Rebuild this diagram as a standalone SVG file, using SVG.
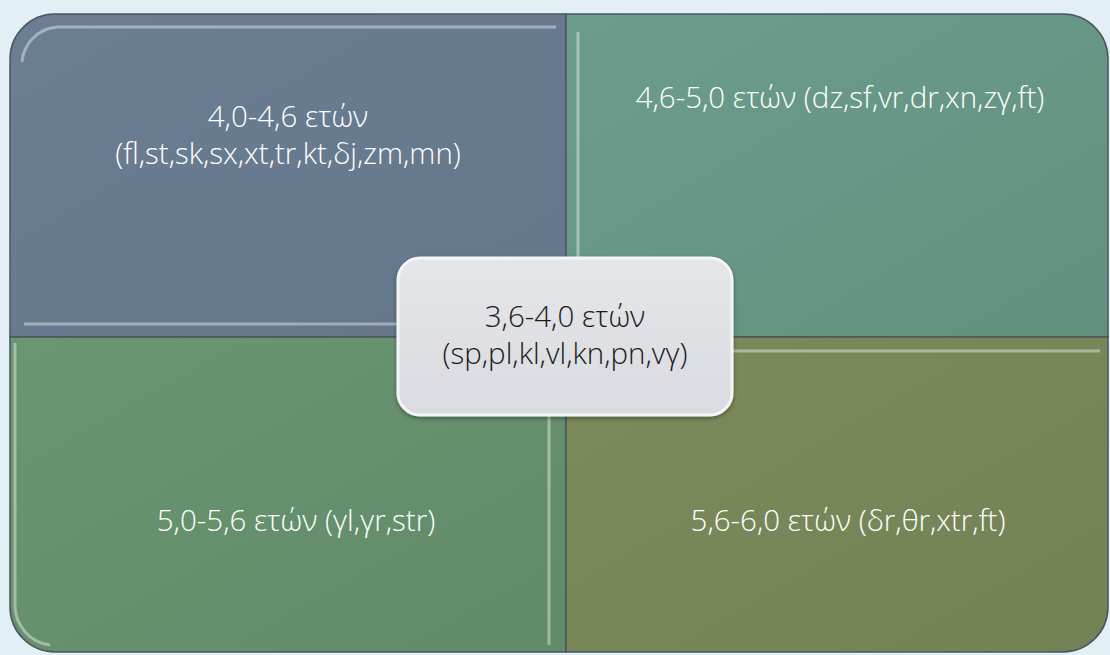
<svg xmlns="http://www.w3.org/2000/svg" width="1110" height="655" viewBox="0 0 1110 655">
<style>
.q{stroke:#4a5560;stroke-width:1.5}
.hl{fill:none;stroke:#ffffff;stroke-opacity:0.4;stroke-width:3}
.t{font-family:"Open Sans","Noto Sans",sans-serif;font-weight:300;font-size:29.5px;fill:#ffffff;text-anchor:middle}
.c{font-family:"Open Sans","Noto Sans",sans-serif;font-weight:300;font-size:29.5px;fill:#1a1a1a;text-anchor:middle}
</style>
<defs>
<linearGradient id="gTL" x1="0" y1="0" x2="1" y2="1"><stop offset="0" stop-color="#6c7e94"/><stop offset="1" stop-color="#647689"/></linearGradient>
<linearGradient id="gTR" x1="0" y1="0" x2="1" y2="1"><stop offset="0" stop-color="#6c9c8c"/><stop offset="1" stop-color="#62917f"/></linearGradient>
<linearGradient id="gBL" x1="0" y1="0" x2="1" y2="1"><stop offset="0" stop-color="#6b9672"/><stop offset="1" stop-color="#618b68"/></linearGradient>
<linearGradient id="gBR" x1="0" y1="0" x2="1" y2="1"><stop offset="0" stop-color="#7c8b5c"/><stop offset="1" stop-color="#738254"/></linearGradient>
<linearGradient id="gC" x1="0" y1="0" x2="0" y2="1"><stop offset="0" stop-color="#e4e6ea"/><stop offset="1" stop-color="#d9dbe0"/></linearGradient>
<filter id="sh" x="-10%" y="-10%" width="120%" height="130%"><feDropShadow dx="0" dy="2" stdDeviation="2" flood-color="#000" flood-opacity="0.35"/></filter>
</defs>
<rect width="1110" height="655" fill="#e2eff4"/>
<g id="node-tl">
<path class="q" fill="url(#gTL)" d="M10,59 A45,45 0 0 1 55,14 H566 V337 H10 Z"/>
<path class="hl" d="M22,62 A38,38 0 0 1 58,27 H556"/>
<path class="hl" d="M24,324 H552"/>
<text class="t" x="288" y="127">4,0-4,6 ετών</text>
<text class="t" x="288" y="164">(fl,st,sk,sx,xt,tr,kt,δj,zm,mn)</text>
</g>
<g id="node-tr">
<path class="q" fill="url(#gTR)" d="M566,14 H1063 A45,45 0 0 1 1108,59 V337 H566 Z"/>
<path class="hl" d="M578,32 V326"/>
<text class="t" x="840" y="108">4,6-5,0 ετών (dz,sf,vr,dr,xn,zγ,ft)</text>
</g>
<g id="node-bl">
<path class="q" fill="url(#gBL)" d="M10,337 H566 V652 H55 A45,45 0 0 1 10,607 Z"/>
<path class="hl" d="M15,343 V605 A40,40 0 0 0 50,645"/>
<path class="hl" d="M549,343 V645"/>
<text class="t" x="296" y="531">5,0-5,6 ετών (γl,γr,str)</text>
</g>
<g id="node-br">
<path class="q" fill="url(#gBR)" d="M566,337 H1108 V607 A45,45 0 0 1 1063,652 H566 Z"/>
<path class="hl" d="M572,351 H1100"/>
<text class="t" x="848" y="531">5,6-6,0 ετών (δr,θr,xtr,ft)</text>
</g>
<g id="node-center">
<rect x="398" y="258" width="334" height="157" rx="22" fill="url(#gC)" stroke="#f4f5f7" stroke-width="3" filter="url(#sh)"/>
<text class="c" x="565" y="327">3,6-4,0 ετών</text>
<text class="c" x="565" y="364">(sp,pl,kl,vl,kn,pn,vγ)</text>
</g>
<g id="connectors"/>
</svg>
